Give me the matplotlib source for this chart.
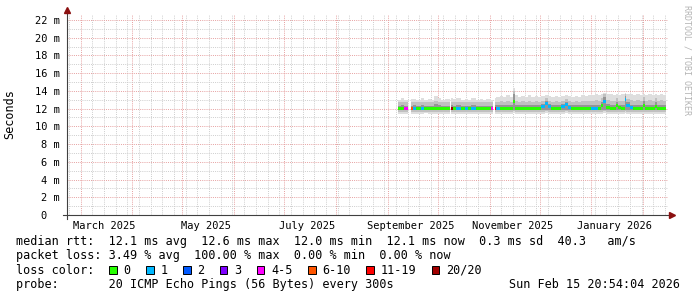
import numpy as np
import pandas as pd
import matplotlib
matplotlib.use("Agg")
import matplotlib.pyplot as plt
import matplotlib.dates as mdates
from matplotlib.patches import Rectangle

plt.rcParams['font.family'] = 'DejaVu Sans Mono'

# ---- smoke data (ms), one row per consolidated step, nan row = no data after it ----
dates = pd.to_datetime([
    '2025-09-07', '2025-09-09', '2025-09-11', '2025-09-13',
    '2025-09-15', '2025-09-16', '2025-09-18', '2025-09-21', '2025-09-23', '2025-09-25',
    '2025-09-27', '2025-09-29', '2025-10-01', '2025-10-03', '2025-10-05', '2025-10-08',
    '2025-10-09', '2025-10-10', '2025-10-12', '2025-10-15', '2025-10-17', '2025-10-19',
    '2025-10-21', '2025-10-24', '2025-10-26', '2025-10-28', '2025-10-30', '2025-11-02', '2025-11-03',
    '2025-11-04', '2025-11-05', '2025-11-07', '2025-11-09', '2025-11-11', '2025-11-13', '2025-11-15',
    '2025-11-16', '2025-11-18', '2025-11-20', '2025-11-22', '2025-11-24', '2025-11-26', '2025-11-28', '2025-11-30',
    '2025-12-02', '2025-12-04', '2025-12-06', '2025-12-08', '2025-12-10', '2025-12-12', '2025-12-14',
    '2025-12-16', '2025-12-18', '2025-12-20', '2025-12-22', '2025-12-24', '2025-12-26', '2025-12-28', '2025-12-30',
    '2026-01-01', '2026-01-03', '2026-01-05', '2026-01-07', '2026-01-08', '2026-01-10', '2026-01-12',
    '2026-01-14', '2026-01-16', '2026-01-17', '2026-01-19', '2026-01-21', '2026-01-22', '2026-01-24',
    '2026-01-26', '2026-01-28', '2026-01-30',
    '2026-02-01', '2026-02-02', '2026-02-04', '2026-02-06', '2026-02-08', '2026-02-09', '2026-02-11',
    '2026-02-13', '2026-02-14 18:00',
], format='ISO8601')
nan = np.nan
median = np.array([
    12.0, 12.0, 12.0, nan,
    12.0, 12.0, 12.0, 12.0, 12.0, 12.0, 12.0, 12.05, 12.0, 12.0, 12.0, nan,
    12.0, 12.0, 12.0, 12.0, 12.0, 12.0, 12.0, 12.0, 12.0, 12.0, 12.0, 12.0, nan,
    12.0, 12.0, 12.0, 12.0, 12.0, 12.0, 12.8, 12.0, 12.0, 12.0, 12.0, 12.0, 12.0, 12.0, 12.0,
    12.2, 12.6, 12.2, 12.0, 12.0, 12.0, 12.2, 12.5, 12.1, 12.0, 12.0, 12.0, 12.0, 12.0, 12.0,
    12.0, 12.0, 12.0, 12.3, 12.8, 12.1, 12.0, 12.0, 12.4, 12.1, 12.0, 13.0, 12.3, 12.1, 12.0, 12.0, 12.0,
    12.3, 12.0, 12.0, 12.0, 12.2, 12.0, 12.0, 12.0, nan,
])
loss = np.array([
    0, 0, 4, 0,
    8, 1, 0, 1, 0, 0, 0, 0, 0, 0, 0, 0,
    20, 0, 1, 0, 1, 0, 1, 0, 0, 0, 0, 4, 0,
    15, 1, 0, 0, 0, 0, 0, 0, 0, 0, 0, 0, 0, 0, 0,
    1, 1, 1, 0, 0, 0, 1, 1, 1, 0, 0, 0, 0, 0, 0,
    1, 1, 0, 0, 1, 0, 0, 0, 0, 0, 0, 1, 1, 1, 0, 0, 0,
    0, 0, 0, 0, 0, 0, 0, 0, 0,
])
hi_outer = np.array([
    13.0, 13.2, 13.0, nan,
    13.1, 13.1, 13.0, 13.2, 13.0, 13.1, 13.0, 13.4, 13.2, 13.0, 13.1, nan,
    13.2, 13.1, 13.2, 13.0, 13.1, 13.0, 13.2, 13.0, 13.1, 13.0, 13.1, 13.0, nan,
    13.2, 13.3, 13.4, 13.3, 13.5, 13.3, 14.3, 13.5, 13.3, 13.4, 13.3, 13.5, 13.3, 13.4, 13.3,
    13.4, 13.5, 13.4, 13.3, 13.4, 13.3, 13.4, 13.5, 13.4, 13.3, 13.4, 13.3, 13.5, 13.4, 13.5,
    13.5, 13.6, 13.5, 13.7, 13.8, 13.6, 13.6, 13.5, 13.6, 13.5, 13.6, 13.8, 13.6, 13.6, 13.5, 13.6, 13.5,
    13.6, 13.5, 13.6, 13.5, 13.6, 13.5, 13.6, 13.5, nan,
])
hi_mid = np.array([
    12.7, 12.8, 12.7, nan,
    12.7, 12.7, 12.7, 12.8, 12.7, 12.7, 12.7, 12.9, 12.8, 12.7, 12.7, nan,
    12.8, 12.7, 12.8, 12.7, 12.7, 12.7, 12.8, 12.7, 12.7, 12.7, 12.7, 12.7, nan,
    12.8, 12.8, 12.9, 12.8, 12.9, 12.8, 14.0, 12.9, 12.8, 12.9, 12.8, 12.9, 12.8, 12.9, 12.8,
    12.9, 13.2, 12.9, 12.8, 12.9, 12.8, 12.9, 13.1, 12.9, 12.8, 12.9, 12.8, 12.9, 12.9, 12.9,
    12.9, 13.0, 12.9, 13.2, 13.6, 13.0, 12.9, 12.9, 13.2, 12.9, 12.9, 13.6, 13.1, 13.0, 12.9, 13.0, 12.9,
    13.3, 12.9, 13.0, 12.9, 13.2, 12.9, 13.0, 12.9, nan,
])
hi_core = np.array([
    12.35, 12.4, 12.35, nan,
    12.35, 12.4, 12.35, 12.4, 12.35, 12.35, 12.35, 12.5, 12.4, 12.35, 12.35, nan,
    12.4, 12.35, 12.4, 12.35, 12.35, 12.35, 12.4, 12.35, 12.35, 12.35, 12.35, 12.35, nan,
    12.4, 12.4, 12.4, 12.4, 12.4, 12.4, 13.7, 12.4, 12.4, 12.4, 12.4, 12.4, 12.4, 12.4, 12.4,
    12.5, 12.9, 12.5, 12.4, 12.4, 12.4, 12.5, 12.8, 12.4, 12.4, 12.4, 12.4, 12.4, 12.4, 12.4,
    12.4, 12.4, 12.4, 12.8, 13.3, 12.5, 12.4, 12.4, 12.8, 12.4, 12.4, 13.4, 12.7, 12.4, 12.4, 12.4, 12.4,
    12.9, 12.4, 12.4, 12.4, 12.8, 12.4, 12.4, 12.4, nan,
])
lo_core = np.array([
    11.8, 11.8, 11.8, nan,
    11.8, 11.8, 11.8, 11.8, 11.8, 11.8, 11.8, 11.8, 11.8, 11.8, 11.8, nan,
    11.8, 11.8, 11.8, 11.8, 11.8, 11.8, 11.8, 11.8, 11.8, 11.8, 11.8, 11.8, nan,
    11.8, 11.8, 11.8, 11.8, 11.8, 11.8, 11.9, 11.8, 11.8, 11.8, 11.8, 11.8, 11.8, 11.8, 11.8,
    11.8, 11.9, 11.8, 11.8, 11.8, 11.8, 11.8, 11.9, 11.8, 11.8, 11.8, 11.8, 11.8, 11.8, 11.8,
    11.8, 11.8, 11.8, 11.8, 11.9, 11.8, 11.8, 11.8, 11.8, 11.8, 11.8, 11.9, 11.8, 11.8, 11.8, 11.8, 11.8,
    11.8, 11.8, 11.8, 11.8, 11.8, 11.8, 11.8, 11.8, nan,
])
lo_mid = np.array([
    11.6, 11.6, 11.6, nan,
    11.6, 11.6, 11.6, 11.6, 11.6, 11.6, 11.6, 11.6, 11.6, 11.6, 11.6, nan,
    11.6, 11.6, 11.6, 11.6, 11.6, 11.6, 11.6, 11.6, 11.6, 11.6, 11.6, 11.6, nan,
    11.6, 11.6, 11.6, 11.6, 11.6, 11.6, 11.7, 11.6, 11.6, 11.6, 11.6, 11.6, 11.6, 11.6, 11.6,
    11.6, 11.7, 11.6, 11.6, 11.6, 11.6, 11.6, 11.7, 11.6, 11.6, 11.6, 11.6, 11.6, 11.6, 11.6,
    11.6, 11.6, 11.6, 11.6, 11.7, 11.6, 11.6, 11.6, 11.6, 11.6, 11.6, 11.7, 11.6, 11.6, 11.6, 11.6, 11.6,
    11.6, 11.6, 11.6, 11.6, 11.6, 11.6, 11.6, 11.6, nan,
])
lo_outer = np.array([
    11.4, 11.4, 11.4, nan,
    11.4, 11.4, 11.4, 11.4, 11.5, 11.4, 11.4, 11.4, 11.4, 11.4, 11.4, nan,
    11.4, 11.4, 11.4, 11.4, 11.4, 11.4, 11.4, 11.4, 11.4, 11.4, 11.4, 11.4, nan,
    11.4, 11.4, 11.4, 11.4, 11.4, 11.4, 11.5, 11.4, 11.4, 11.4, 11.4, 11.4, 11.4, 11.4, 11.4,
    11.4, 11.5, 11.4, 11.4, 11.4, 11.4, 11.4, 11.5, 11.4, 11.4, 11.4, 11.4, 11.4, 11.4, 11.4,
    11.4, 11.4, 11.4, 11.4, 11.5, 11.4, 11.4, 11.4, 11.4, 11.4, 11.4, 11.5, 11.4, 11.4, 11.4, 11.4, 11.4,
    11.4, 11.4, 11.4, 11.4, 11.4, 11.4, 11.4, 11.4, nan,
])

# loss legend
loss_levels = [0, 1, 2, 3, 4, 6, 11, 20]
loss_labels = ['0', '1', '2', '3', '4-5', '6-10', '11-19', '20/20']
loss_cols = ['#26ff00', '#00b8ff', '#0059ff', '#7e00ff', '#ff00ff', '#ff5500', '#ff0000', '#a10000']

# x labels (centred mid month, like rrdtool)
label_dates = pd.to_datetime(['2025-03-15', '2025-05-15', '2025-07-15',
                              '2025-09-15', '2025-11-15', '2026-01-15'])
label_text = ['March 2025', 'May 2025', 'July 2025',
              'September 2025', 'November 2025', 'January 2026']
y_ticks = np.arange(0, 23, 2)

t_start = pd.Timestamp('2025-02-20 20:54:04')
t_end = pd.Timestamp('2026-02-15 20:54:04')

legend_lines = [
    'median rtt:  12.1 ms avg  12.6 ms max  12.0 ms min  12.1 ms now  0.3 ms sd  40.3   am/s',
    'packet loss: 3.49 % avg  100.00 % max  0.00 % min  0.00 % now',
    'loss color:',
    'probe:       20 ICMP Echo Pings (56 Bytes) every 300s',
]
stamp = 'Sun Feb 15 20:54:04 2026'


def loss_color(n):
    c = loss_cols[0]
    for lvl, col in zip(loss_levels, loss_cols):
        if n >= lvl:
            c = col
    return c


W, H = 697, 297
fig = plt.figure(figsize=(W / 100, H / 100), dpi=100, facecolor='white')
ax = fig.add_axes([67 / W, 82 / H, 601 / W, 200 / H])

xn = mdates.date2num(dates)
ok = ~np.isnan(median[:-1])
x0 = xn[:-1][ok]
wd = np.diff(xn)[ok]

bar_kw = dict(align='edge', linewidth=0, antialiased=False)
ax.bar(x0, (hi_outer - lo_outer)[:-1][ok], bottom=lo_outer[:-1][ok], width=wd, color='#dedede', **bar_kw)
ax.bar(x0, (hi_mid - lo_mid)[:-1][ok], bottom=lo_mid[:-1][ok], width=wd, color='#c0c0c0', **bar_kw)
ax.bar(x0, (hi_core - lo_core)[:-1][ok], bottom=lo_core[:-1][ok], width=wd, color='#959595', **bar_kw)
med = median[:-1][ok]
ax.bar(x0, 0.34, bottom=med - 0.17, width=wd,
       color=[loss_color(n) for n in loss[:-1][ok]], **bar_kw)

ax.xaxis_date()
ax.set_xlim(mdates.date2num(t_start), mdates.date2num(t_end))
ax.set_ylim(0, 22.56)

# grid
ax.xaxis.set_major_locator(mdates.MonthLocator(bymonthday=1))
ax.xaxis.set_minor_locator(mdates.WeekdayLocator(byweekday=mdates.SA))
ax.xaxis.set_major_formatter(plt.NullFormatter())
ax.set_yticks(y_ticks)
ax.set_yticks(np.arange(1, 23, 2), minor=True)
ax.set_yticklabels(['0  ' if v == 0 else f'{v:g} m' for v in y_ticks])
ax.set_axisbelow(True)
ax.grid(which='major', color='#e6a0a0', linestyle=(0, (1, 1.2)), linewidth=0.7)
ax.grid(which='minor', color='#cdcdcd', linestyle=(0, (1, 1.2)), linewidth=0.7)
ax.tick_params(which='both', length=0)
ax.tick_params(axis='y', pad=5, labelsize=7.5)
for s in ax.spines.values():
    s.set_visible(False)

sec = ax.secondary_xaxis('bottom')
sec.set_xticks(mdates.date2num(label_dates))
sec.set_xticklabels(label_text)
sec.tick_params(length=0, pad=4.5, labelsize=7.5)
sec.spines['bottom'].set_visible(False)

# axes with arrows
ax.plot([-0.007, 1.004], [0, 0], transform=ax.transAxes, color='#404040', lw=0.8, clip_on=False)
ax.plot([0, 0], [-0.02, 1.02], transform=ax.transAxes, color='#404040', lw=0.8, clip_on=False)
ax.plot([1.007], [0], marker='>', ms=4, color='#8b1010', transform=ax.transAxes, clip_on=False)
ax.plot([0], [1.027], marker='^', ms=4, color='#8b1010', transform=ax.transAxes, clip_on=False)

fig.text(10 / W, 1 - 114 / H, 'Seconds', rotation=90, ha='center', va='center', fontsize=8.5)
fig.text(687 / W, 1 - 60 / H, 'RRDTOOL / TOBI OETIKER', rotation=270, ha='center', va='center',
         fontsize=6, color='#b4b4b4')

# legend block
cw = 8.5 * 100 / 72 * 0.602
ys = [241, 255.5, 270, 284.5]
for line, y in zip(legend_lines, ys):
    fig.text(16 / W, 1 - y / H, line, ha='left', va='center', fontsize=8.5)
fig.text(680 / W, 1 - ys[3] / H, stamp, ha='right', va='center', fontsize=8.5)

col = 13.1
for lab, c in zip(loss_labels, loss_cols):
    bx = 16 + col * cw
    fig.add_artist(Rectangle((bx / W, 1 - (ys[2] + 4) / H), 7.5 / W, 8 / H, transform=fig.transFigure,
                             facecolor=c, edgecolor='black', linewidth=0.7))
    fig.text((16 + (col + 2) * cw) / W, 1 - ys[2] / H, lab, ha='left', va='center', fontsize=8.5)
    col = col + 2 + len(lab) + 2.2

fig.savefig('out.png', dpi=100)
